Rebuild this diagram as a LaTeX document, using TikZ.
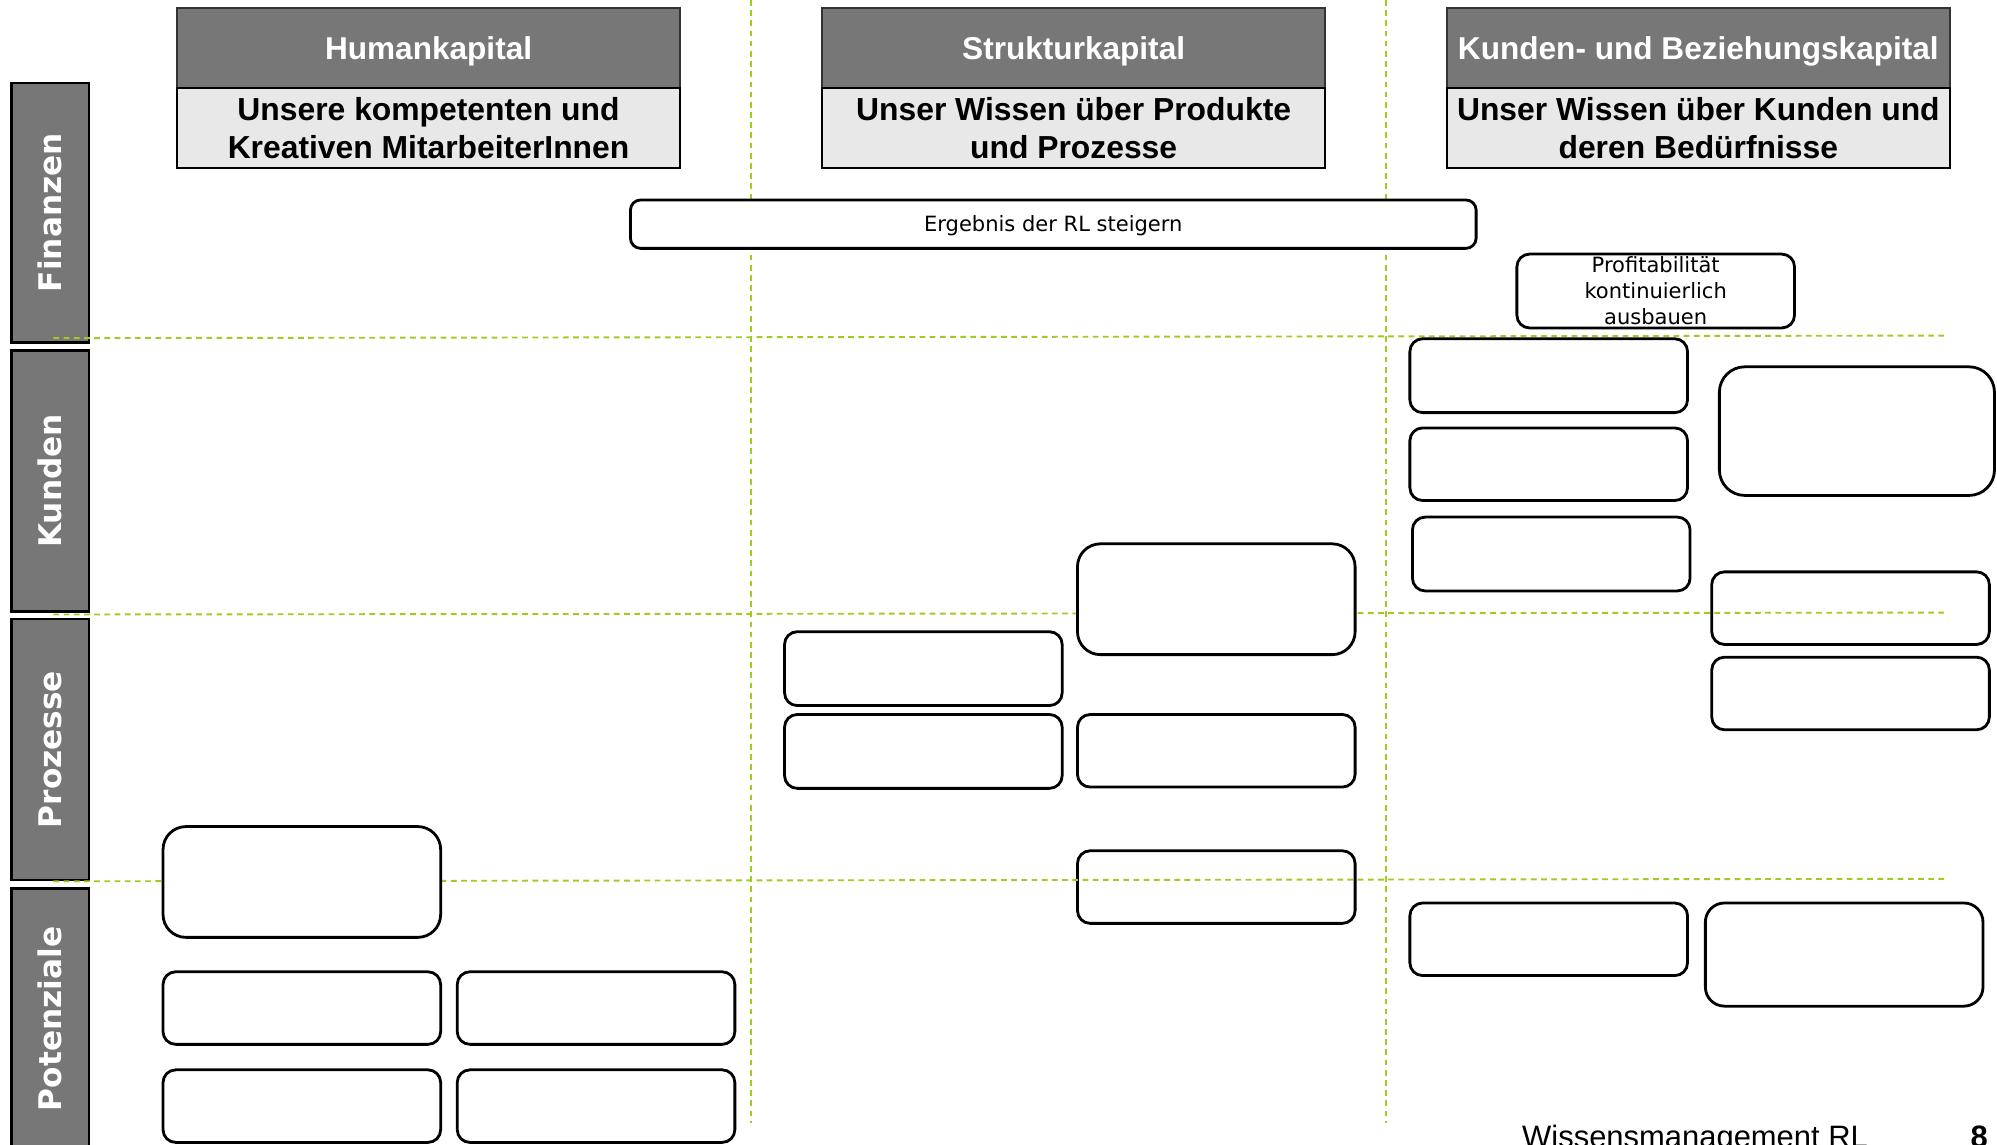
\documentclass[tikz,border=0pt]{standalone}
\usepackage{fontspec}
\setmainfont{Liberation Sans}
\newfontfamily\dejavu{DejaVu Sans}
\definecolor{bargray}{HTML}{777777}
\definecolor{lightfill}{HTML}{E8E8E8}
\definecolor{gridgreen}{HTML}{A2CB22}
\begin{document}
\begin{tikzpicture}[x=1pt,y=-1pt,
  rowbar/.style={draw=black, line width=2pt, fill=bargray, rotate=90,
    minimum width=205, minimum height=61, inner sep=0pt, text=white,
    font=\dejavu\bfseries\fontsize{24.5}{29}\selectfont},
  headdark/.style={draw=black!80, line width=1.5pt, fill=bargray,
    minimum width=395, minimum height=63, inner sep=0pt, text=white,
    text height=18pt, text depth=0pt,
    font=\bfseries\fontsize{24.8}{30}\selectfont},
  headlight/.style={draw=black, line width=2pt, fill=lightfill,
    minimum width=395, minimum height=63, inner sep=0pt, align=center,
    font=\bfseries\fontsize{25}{30}\selectfont},
  box/.style={draw=black, line width=2.2pt, fill=white, rounded corners=10pt,
    inner sep=0pt, minimum width=218, minimum height=58, align=center,
    font=\dejavu\fontsize{16.5}{20.5}\selectfont},
  bigbox/.style={box, rounded corners=18pt},
  gridline/.style={draw=gridgreen, line width=1.5pt, dash pattern=on 4.5pt off 3.5pt},
  footer/.style={anchor=base west, inner sep=0pt, font=\fontsize{24.3}{29}\selectfont}
]
\useasboundingbox (0,0) rectangle (1568,899);
\clip (0,0) rectangle (1568,899);

% row bars
\node[rowbar, minimum width=204] (fin) at (39.5,167) {Finanzen};
\node[rowbar] (kun) at (39.5,377.5) {Kunden};
\node[rowbar] (pro) at (39.5,588.5) {Prozesse};
\node[rowbar] (pot) at (39.5,800) {Potenziale};

% column headers
\node[headdark] (hk) at (336.5,37.5) {Humankapital};
\node[headlight] (hkt) at (336.5,100.5) {Unsere kompetenten und\\Kreativen MitarbeiterInnen};
\node[headdark] (sk) at (843,37.5) {Strukturkapital};
\node[headlight] (skt) at (843,100.5) {Unser Wissen über Produkte\\und Prozesse};
\node[headdark] (kb) at (1333.5,37.5) {Kunden- und Beziehungskapital};
\node[headlight] (kbt) at (1333.5,100.5) {Unser Wissen über Kunden und\\deren Bedürfnisse};

% boxes lying under the grid lines
\node[box, minimum height=57] (k5) at (1453,477.5) {};
\node[box, minimum height=57] (s5) at (955,696.5) {};

% grid lines
\draw[gridline] (42,265.5) -- (1527,263.5);
\draw[gridline] (42,482.5) -- (1527,481);
\draw[gridline] (42,692) -- (1527,690);
\draw[gridline] (589.5,0) -- (589.5,882);
\draw[gridline] (1088.5,0) -- (1088.5,882);

% Finanzen
\node[box, rounded corners=8pt, minimum width=664, minimum height=38,
      text height=12pt, text depth=0pt] (erg) at (827,176) {Ergebnis der RL steigern};
\node[box] (prof) at (1300,228.5) {Profitabilität\\kontinuierlich\\ausbauen};

% Kunden column
\node[box] (k1) at (1216,295) {};
\node[box, minimum height=57] (k2) at (1216,364.5) {};
\node[box] (k3) at (1218,435) {};
\node[bigbox, minimum width=216, minimum height=101, rounded corners=20pt] (k4) at (1458,338.5) {};
\node[box, minimum height=57] (k6) at (1453,544.5) {};
\node[box, minimum height=57] (p1) at (1216,737.5) {};
\node[bigbox, minimum height=81, rounded corners=15pt] (p2) at (1448,749.5) {};

% Struktur column
\node[bigbox, minimum height=87] (s1) at (955,470.5) {};
\node[box] (s2) at (725,525) {};
\node[box] (s3) at (725,590) {};
\node[box, minimum height=57] (s4) at (955,589.5) {};

% Human column
\node[bigbox, minimum height=87] (h1) at (237,692.5) {};
\node[box, minimum height=57] (h2) at (237,791.5) {};
\node[box, minimum height=57] (h3) at (468,791.5) {};
\node[box, minimum height=57] (h4) at (237,868.5) {};
\node[box, minimum height=57] (h5) at (468,868.5) {};

% footer (cut at the lower edge, as in the reference)
\node[footer] (ft) at (1195,901) {Wissensmanagement RL};
\node[footer, font=\bfseries\fontsize{24.3}{29}\selectfont] (pg) at (1547,901) {8};
\end{tikzpicture}
\end{document}
